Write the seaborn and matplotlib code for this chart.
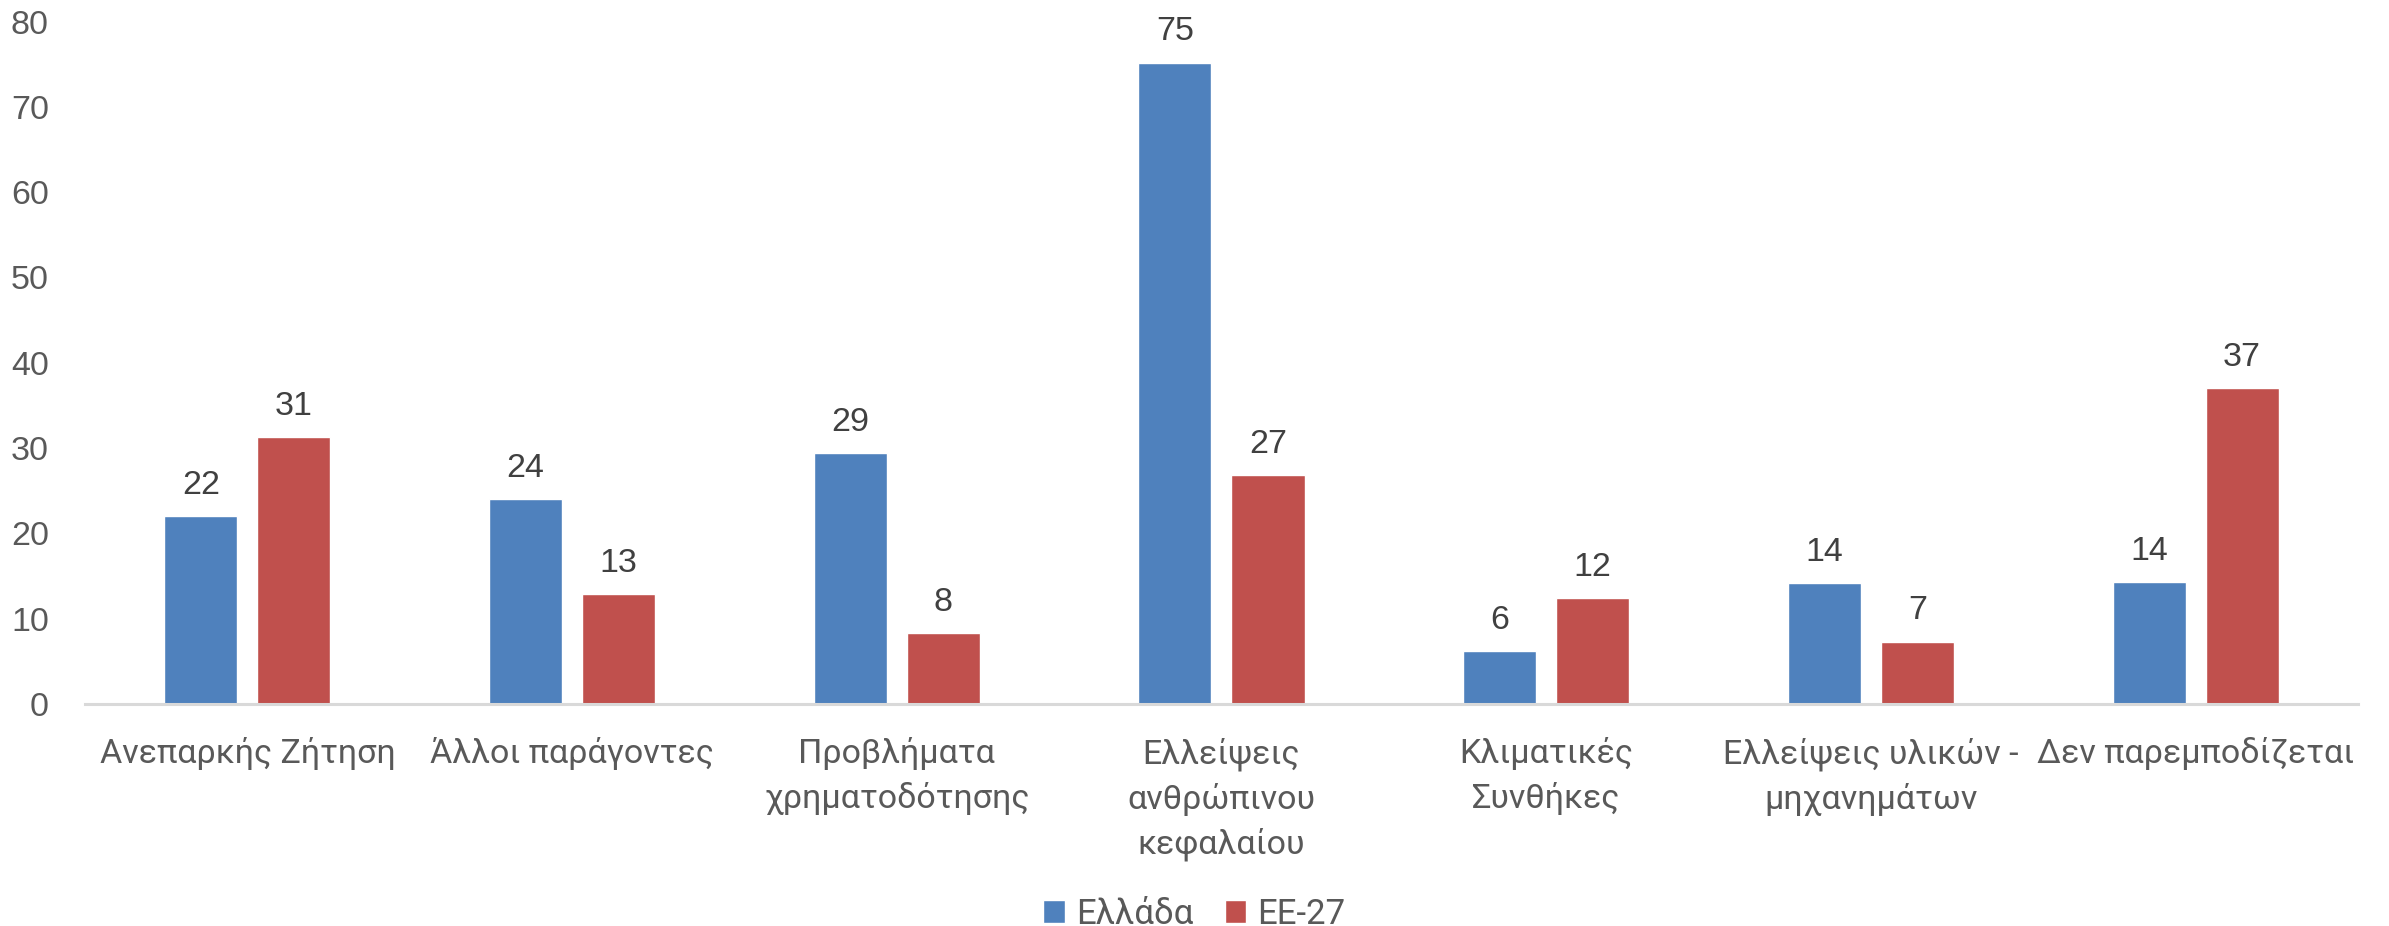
import pandas
import matplotlib
import matplotlib.pyplot as plt
import seaborn as sns
plt.switch_backend('agg')

# data
categories = ["Ανεπαρκής Ζήτηση", "Άλλοι παράγοντες", "Προβλήματα\nχρηματοδότησης",
              "Ελλείψεις\nανθρώπινου\nκεφαλαίου", "Κλιματικές\nΣυνθήκες",
              "Ελλείψεις υλικών -\nμηχανημάτων", "Δεν παρεμποδίζεται"]
greece = [22.0, 24.0, 29.4, 75.2, 6.2, 14.2, 14.3]
eu27 = [31.3, 12.9, 8.3, 26.8, 12.4, 7.3, 37.0]
series_names = ["Ελλάδα", "ΕΕ-27"]
yticks = [0, 10, 20, 30, 40, 50, 60, 70, 80]

colors = ["#4F81BD", "#C0504D"]
tick_grey = "#595959"

sns.set_style("white")
plt.rcParams['font.family'] = ['Roboto', 'DejaVu Sans']

df = pandas.DataFrame({
    'category': categories * 2,
    'value': greece + eu27,
    'series': [series_names[0]] * len(categories) + [series_names[1]] * len(categories),
})

fig = plt.figure(figsize=(23.89, 9.26), dpi=100)
ax = fig.add_axes([0.0356, 0.2397, 0.9514, 0.737])

sns.barplot(data=df, x='category', y='value', hue='series', order=categories,
            hue_order=series_names, palette=colors, saturation=1,
            width=0.573, gap=0.215, ax=ax, legend=True)

for cont in ax.containers:
    ax.bar_label(cont, fmt='%.0f', padding=11, fontsize=24.5, color="#404040",
                 family=['Liberation Sans', 'DejaVu Sans'])

ax.set_ylim(0, 80)
ax.set_xlim(-0.5, len(categories) - 0.5)
ax.set_yticks(yticks)
ax.set_xlabel("")
ax.set_ylabel("")

for s in ['top', 'right', 'left']:
    ax.spines[s].set_visible(False)
ax.spines['bottom'].set_color("#D9D9D9")
ax.spines['bottom'].set_linewidth(2.2)

ax.tick_params(axis='y', length=0, pad=26, labelsize=24.5, labelcolor=tick_grey)
ax.tick_params(axis='x', length=0, pad=24, labelsize=24.5, labelcolor=tick_grey)
for lab in ax.get_yticklabels():
    lab.set_family(['Liberation Sans', 'DejaVu Sans'])
for lab in ax.get_xticklabels():
    lab.set_multialignment('center')
    lab.set_linespacing(1.46)

handles, labels = ax.get_legend_handles_labels()
ax.get_legend().remove()
fig.legend(handles, labels, loc='lower center', bbox_to_anchor=(0.5, -0.02), ncol=2,
           frameon=False, fontsize=25, labelcolor=tick_grey,
           handlelength=0.62, handleheight=0.62, handletextpad=0.32,
           columnspacing=0.9, borderaxespad=0)

fig.savefig("out.png", dpi=100)
